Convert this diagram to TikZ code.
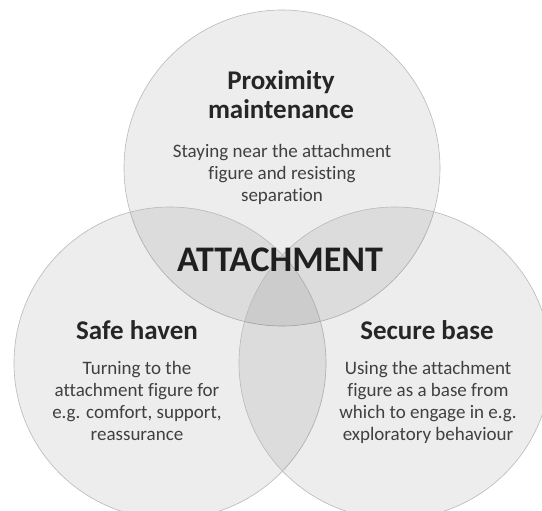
\documentclass[tikz,border=0pt]{standalone}
\usepackage{fontspec}
\setmainfont[Ligatures=NoCommon]{Carlito}
\begin{document}
\begin{tikzpicture}[x=1pt, y=-1pt,
  bubble/.style={fill=black, fill opacity=.07, draw=gray!55, line width=.6pt},
  head/.style={font=\fontsize{27}{29}\selectfont\bfseries, text=black!85, align=center, anchor=base},
  body/.style={font=\fontsize{19}{22}\selectfont, text=black!75, align=center, anchor=base},
  title/.style={font=\fontsize{36}{40}\selectfont\bfseries, text=black!88, anchor=base}]
\useasboundingbox (0,0) rectangle (542,511);
\clip (0,0) rectangle (542,511);
\fill[white] (0,0) rectangle (542,511);

\draw[bubble] (282,168) circle [radius=158pt];
\draw[bubble] (170,363) circle [radius=156pt];
\draw[bubble] (395,363) circle [radius=156pt];

% base anchor sits on the last line
\node[head] (prox) at (281,119) {Proximity\\maintenance};
\node[body] (proxtxt) at (282,202) {Staying near the attachment\\figure and resisting\\separation};

\node[title] (attach) at (280,272) {ATTACHMENT};

\node[head] (haven) at (137,339) {Safe haven};
\node[body] (haventxt) at (137,440) {Turning to the\\attachment figure for\\e.g. comfort, support,\\reassurance};

\node[head] (base) at (427,339) {Secure base};
\node[body] (basetxt) at (428,440) {Using the attachment\\figure as a base from\\which to engage in e.g.\\exploratory behaviour};
\end{tikzpicture}
\end{document}
